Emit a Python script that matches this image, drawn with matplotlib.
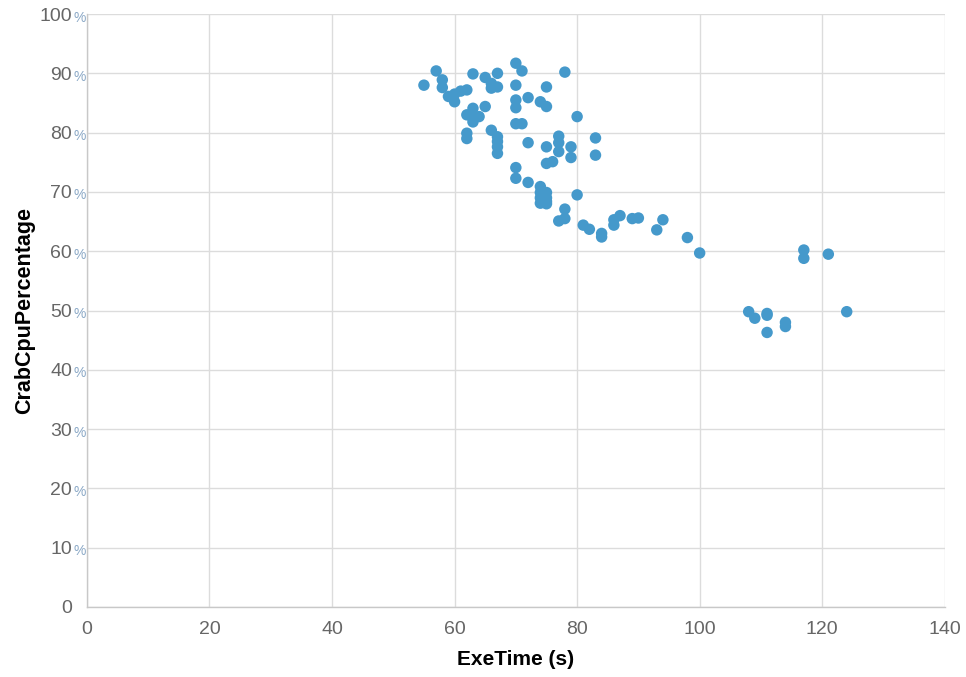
import numpy as np
import matplotlib
matplotlib.use("Agg")
import matplotlib.pyplot as plt
from matplotlib.transforms import blended_transform_factory

# execution time (s) and crab cpu share (%) per run
exe_time = [55, 57, 58, 58, 59, 60, 60, 61, 62,
            62, 62, 62, 63, 63, 63, 64, 63,
            65, 65, 66, 66, 66, 67, 67, 67, 67, 67, 67,
            70, 70, 70, 70, 70, 70, 70, 71, 71,
            72, 72, 72, 74, 74, 74, 74, 74,
            75, 75, 75, 75, 75, 75, 75, 75, 76,
            77, 77, 77, 77, 78, 78, 78, 79, 79,
            80, 80, 81, 82, 83, 83, 84, 84,
            86, 86, 87, 89, 90, 93, 94, 98, 100,
            108, 109, 111, 111, 111, 114, 114,
            117, 117, 121, 124]
cpu_pct = [88.0, 90.4, 88.9, 87.6, 86.1, 86.5, 85.2, 87.0, 87.2,
           83.0, 79.9, 79.0, 89.9, 84.1, 82.4, 82.7, 81.8,
           89.3, 84.4, 88.3, 87.5, 80.4, 90.0, 87.7, 79.3, 78.5, 77.6, 76.5,
           91.7, 88.0, 85.5, 84.2, 81.5, 74.1, 72.3, 90.4, 81.5,
           85.9, 78.3, 71.6, 85.2, 70.9, 69.9, 69.0, 68.1,
           87.7, 84.4, 77.6, 74.8, 69.9, 69.0, 68.4, 68.0, 75.1,
           79.4, 78.3, 76.8, 65.1, 90.2, 67.1, 65.5, 77.6, 75.8,
           82.7, 69.5, 64.4, 63.7, 79.1, 76.2, 63.0, 62.4,
           65.3, 64.4, 66.0, 65.5, 65.6, 63.6, 65.3, 62.3, 59.7,
           49.8, 48.7, 49.5, 49.2, 46.3, 48.0, 47.3,
           60.2, 58.8, 59.5, 49.8]

x_ticks = [0, 20, 40, 60, 80, 100, 120, 140]
y_ticks = [0, 10, 20, 30, 40, 50, 60, 70, 80, 90, 100]

plt.rcParams['font.family'] = ['Liberation Sans', 'DejaVu Sans']

fig = plt.figure(figsize=(9.66, 6.77), dpi=100)
ax = fig.add_axes([0.090, 0.1034, 0.888, 0.8759])

ax.scatter(exe_time, cpu_pct, s=68, color='#4599cb', edgecolors='none', zorder=3)

ax.set_xlim(0, 140)
ax.set_ylim(0, 100)
ax.set_xticks(x_ticks)
ax.set_yticks(y_ticks)
ax.set_xticklabels([str(t) for t in x_ticks])
ax.set_yticklabels([str(t) for t in y_ticks])
ax.grid(True, color='#dcdcdc', linewidth=1.0, zorder=0)
ax.set_axisbelow(True)

for side in ['top', 'right']:
    ax.spines[side].set_visible(False)
for side in ['left', 'bottom']:
    ax.spines[side].set_color('#c8c8c8')
    ax.spines[side].set_linewidth(1.0)

ax.tick_params(axis='both', length=0, labelsize=14, labelcolor='#666666')
ax.tick_params(axis='x', pad=10)
ax.tick_params(axis='y', pad=10.8)

# small percent signs after the y tick numbers
trans = blended_transform_factory(ax.transAxes, ax.transData)
for t in y_ticks[1:]:
    ax.text(-0.0152, t - 0.35, '%', transform=trans, ha='left', va='center_baseline',
            fontsize=10, color='#8aa8c6')

ax.set_xlabel('ExeTime (s)', fontsize=15, fontweight='bold', labelpad=9)
ax.set_ylabel('CrabCpuPercentage', fontsize=15.5, fontweight='bold', labelpad=3)

fig.savefig('out.png', dpi=100)
